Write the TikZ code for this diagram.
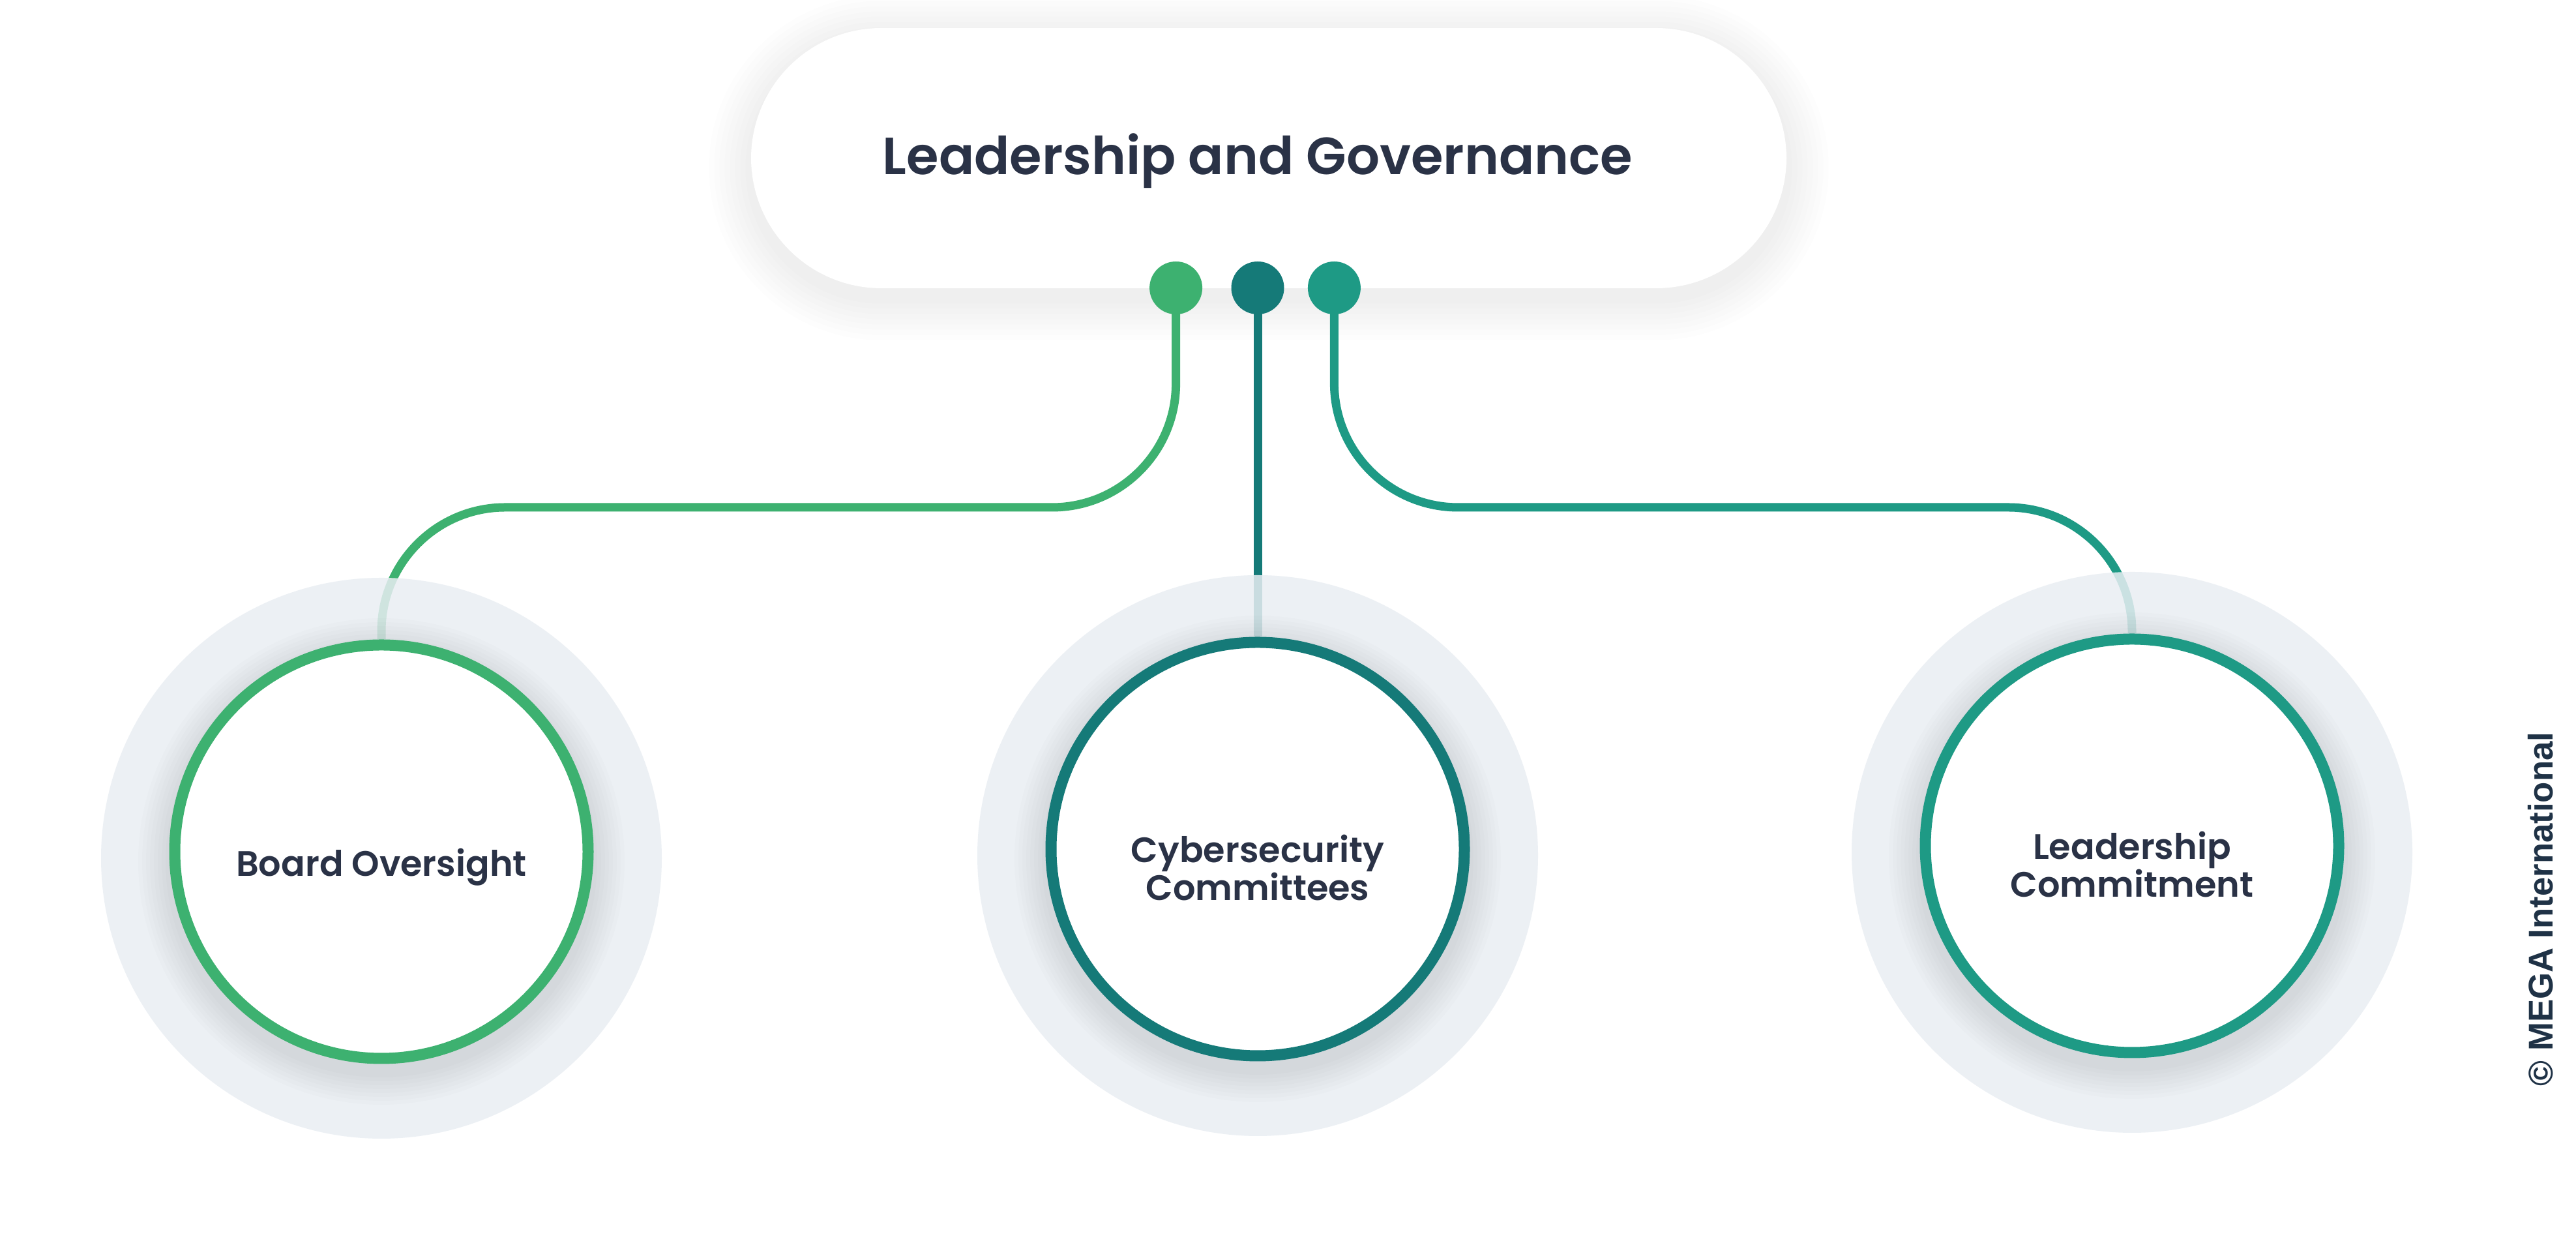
\documentclass[tikz,border=0pt]{standalone}
\usepackage{fontspec}
\setmainfont{Poppins}
\newfontfamily\semibold{Poppins SemiBold}
\newfontfamily\creditfont{Liberation Sans}
\usepackage{tikz}
\usetikzlibrary{positioning}
\definecolor{inkblue}{HTML}{2A3246}
\definecolor{creditblue}{HTML}{1F3246}
\definecolor{boardgreen}{HTML}{3DB170}
\definecolor{committeeteal}{HTML}{157A78}
\definecolor{commitgreen}{HTML}{1E9A85}
\definecolor{halo}{HTML}{E9EEF3}
\pgfdeclarelayer{background}
\pgfdeclarelayer{lines}
\pgfsetlayers{background,lines,main}

\begin{document}
\begin{tikzpicture}[
    pillbox/.style={
        fill=white,
        rounded corners=2cm,
        minimum width=15.88cm,
        minimum height=3.99cm,
    },
    titletext/.style={text=inkblue, font=\semibold\fontsize{22.8}{27}\selectfont},
    dotnode/.style={circle, minimum size=0.81cm, inner sep=0pt},
    halonode/.style={circle, fill=halo, fill opacity=0.85, minimum size=8.6cm, inner sep=0pt},
    topicnode/.style={
        circle, draw, fill=white,
        line width=0.17cm,
        minimum size=6.34cm,
        inner sep=0pt,
    },
    topictext/.style={
        align=center,
        text=inkblue,
        font=\semibold\fontsize{15.4}{16.5}\selectfont,
    },
    connline/.style={line width=0.13cm, rounded corners=1.9cm},
]
\useasboundingbox (0,0) rectangle (39.51,19.29);

% =============================================
% HEADER – pill with the three coloured dots
% =============================================
\node[pillbox] (pill) at (19.46,16.865) {};

\node[dotnode, fill=committeeteal] (dotcyber) at (19.29,14.875) {};
\node[dotnode, fill=boardgreen, left=0.43cm of dotcyber] (dotboard) {};
\node[dotnode, fill=commitgreen, right=0.35cm of dotcyber] (dotcommit) {};

\node[titletext] (title) at (19.29,16.82) {Leadership and Governance};

% soft shadow round the pill
\begin{pgfonlayer}{background}
  \fill[white] (0,0) rectangle (39.51,19.29);
  \foreach \g in {1,...,8}
    \fill[black, opacity=0.008, rounded corners=2cm+\g*0.8mm]
      ([xshift=-\g*0.8mm, yshift=-\g*0.8mm-1.5mm]pill.south west)
      rectangle ([xshift=\g*0.8mm, yshift=\g*0.8mm-1.5mm]pill.north east);
\end{pgfonlayer}

% =============================================
% TOPICS – halo, shadow, ringed circle
% =============================================
\coordinate (boardc) at (5.85,6.23);
\coordinate (cyberc) at (19.29,6.27);
\coordinate (commitc) at (32.70,6.32);

% Board oversight
\node[halonode] (boardhalo) at ([yshift=-1mm]boardc) {};
\foreach \g in {1,...,8}
  \fill[black, opacity=0.01] ([yshift=-1.5mm]boardc) circle (3.25cm+\g*0.6mm);
\node[topicnode, draw=boardgreen] (board) at (boardc) {};
\node[topictext] (boardtext) at ([yshift=-2.4mm]boardc) {Board Oversight};

% Cybersecurity committees
\node[halonode] (cyberhalo) at ([yshift=-1mm]cyberc) {};
\foreach \g in {1,...,8}
  \fill[black, opacity=0.01] ([yshift=-1.5mm]cyberc) circle (3.25cm+\g*0.6mm);
\node[topicnode, draw=committeeteal] (cyber) at (cyberc) {};
\node[topictext] (cybertext) at ([yshift=-2.9mm]cyberc) {Cybersecurity\\Committees};

% Leadership commitment
\node[halonode] (commithalo) at ([yshift=-1mm]commitc) {};
\foreach \g in {1,...,8}
  \fill[black, opacity=0.01] ([yshift=-1.5mm]commitc) circle (3.25cm+\g*0.6mm);
\node[topicnode, draw=commitgreen] (commit) at (commitc) {};
\node[topictext] (committext) at ([yshift=-2.9mm]commitc) {Leadership\\Commitment};

% =============================================
% CONNECTORS – dots down to the circles
% =============================================
\coordinate (hline) at (0,11.51);
\begin{pgfonlayer}{lines}
  \draw[connline, boardgreen] (dotboard.center) -- (dotboard.center |- hline)
    -- (board.north |- hline) -- (board.north);
  \draw[connline, committeeteal] (dotcyber.center) -- (cyber.north);
  \draw[connline, commitgreen] (dotcommit.center) -- (dotcommit.center |- hline)
    -- (commit.north |- hline) -- (commit.north);
\end{pgfonlayer}

% Credit line
\node[rotate=90, text=creditblue, font=\creditfont\bfseries\fontsize{15}{17}\selectfont]
  (credit) at (38.97,5.35) {© MEGA International};

\end{tikzpicture}
\end{document}
